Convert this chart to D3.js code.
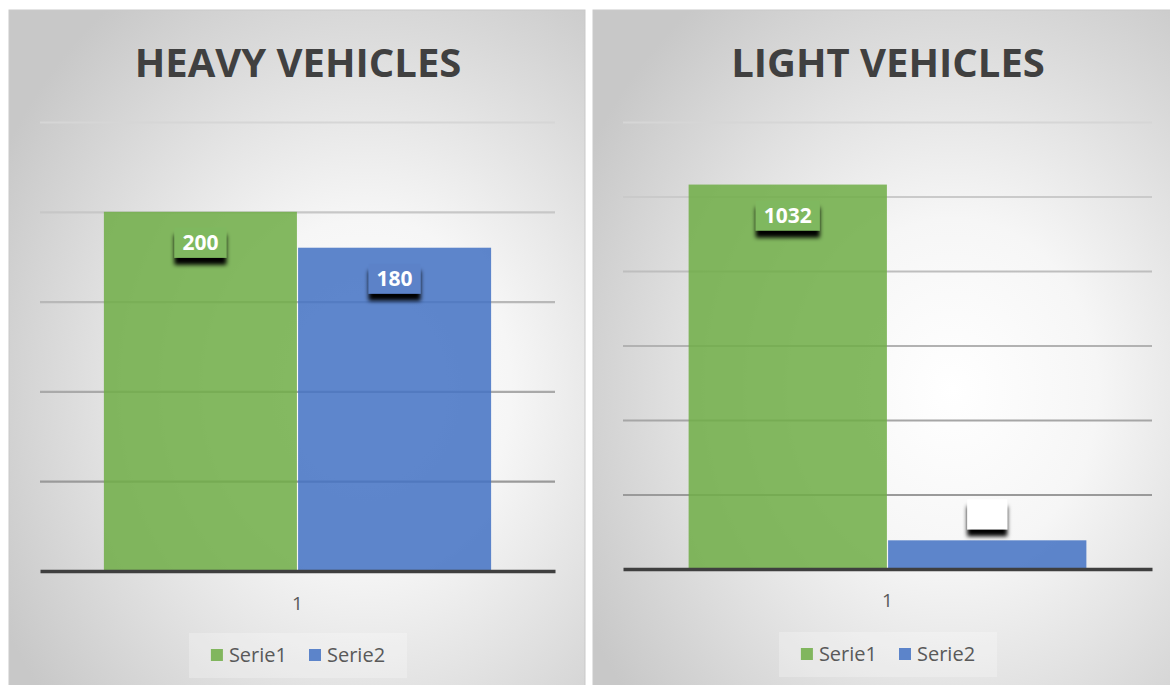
<!DOCTYPE html>
<html><head><meta charset="utf-8">
<script src="https://cdn.jsdelivr.net/npm/d3@7"></script>
<style>
html,body{margin:0;padding:0;background:#fff;}
svg{display:block;}
text{font-family:"Open Sans","Noto Sans",sans-serif;}
</style></head>
<body>
<script>
// ---- data ----
const chartTitles = ["HEAVY VEHICLES", "LIGHT VEHICLES"];
const categories = ["1"];
const seriesNames = ["Serie1", "Serie2"];
const heavyValues = [200, 180];
const lightValues = [1032, 77];
const heavyTicks = [0, 50, 100, 150, 200, 250];
const lightTicks = [0, 200, 400, 600, 800, 1000, 1200];
const seriesColors = ["#70AD47", "#4472C4"];
const labelFills = ["#7fb85f", "#5b82c8", "#ffffff"];

// ---- layout ----
const W = 1170, H = 685;
const layouts = [
  {x0: 9, x1: 585, top: 10, plotL: 40, plotR: 555, base: 571, gtop: 122, titleX: 298, legendY: 655, catY: 610,
   values: heavyValues, ticks: heavyTicks, gradId: "g0"},
  {x0: 593, x1: 1172, top: 10, plotL: 623, plotR: 1152, base: 569, gtop: 122, titleX: 888, legendY: 654, catY: 607,
   values: lightValues, ticks: lightTicks, gradId: "g1"}
];

const svg = d3.select("body").append("svg").attr("width", W).attr("height", H);
const defs = svg.append("defs");
const flt = defs.append("filter").attr("id", "shadow").attr("x", "-20%").attr("y", "-20%").attr("width", "140%").attr("height", "170%");
flt.append("feDropShadow").attr("dx", 0).attr("dy", 7).attr("stdDeviation", 2.2).attr("flood-color", "#000").attr("flood-opacity", 1);

layouts.forEach((L, i) => {
  const g = defs.append("radialGradient").attr("id", L.gradId)
    .attr("cx", "62%").attr("cy", "56%").attr("r", "72%").attr("fx", "62%").attr("fy", "56%");
  g.append("stop").attr("offset", "0%").attr("stop-color", "#ffffff");
  g.append("stop").attr("offset", "35%").attr("stop-color", "#f6f6f6");
  g.append("stop").attr("offset", "100%").attr("stop-color", "#c8c8c8");

  const p = svg.append("g");
  p.append("rect").attr("x", L.x0).attr("y", L.top).attr("width", L.x1 - L.x0).attr("height", H - L.top + 2)
    .attr("fill", `url(#${L.gradId})`).attr("stroke", "#c9c9c9").attr("stroke-width", 1);

  // title
  p.append("text").attr("x", L.titleX).attr("y", 77).attr("text-anchor", "middle")
    .attr("font-size", 40).attr("font-weight", 700).attr("fill", "#404040")
    .text(chartTitles[i]);

  const y = d3.scaleLinear().domain([0, d3.max(L.ticks)]).range([L.base, L.gtop]);
  const x = d3.scaleBand().domain(categories).range([L.plotL, L.plotR]).paddingOuter(0.165).paddingInner(0);
  const xs = d3.scaleBand().domain(seriesNames).range([0, x.bandwidth()]).paddingInner(0.006);

  // gridlines
  const grid = p.append("g").attr("transform", `translate(${L.plotL},0)`)
    .call(d3.axisLeft(y).tickValues(L.ticks.slice(1)).tickSize(-(L.plotR - L.plotL)).tickFormat(""));
  grid.select(".domain").remove();
  const nT = L.ticks.length - 1;
  const gcol = d3.scaleLinear().domain([nT, 1]).range(["#d6d6d6", "#9a9a9a"]);
  grid.selectAll(".tick line").attr("stroke", d => gcol(L.ticks.indexOf(d))).attr("stroke-width", 2.2);

  // bars
  const bars = p.append("g");
  L.values.forEach((v, s) => {
    const bx = x(categories[0]) + xs(seriesNames[s]);
    bars.append("rect").attr("x", bx).attr("y", y(v)).attr("width", xs.bandwidth()).attr("height", y(0) - y(v))
      .attr("fill", seriesColors[s]).attr("fill-opacity", 0.86);
  });

  // baseline axis
  const ax = p.append("g").attr("transform", `translate(0,${L.base})`)
    .call(d3.axisBottom(x).tickSize(0).tickPadding(0));
  ax.select(".domain").attr("stroke", "#3f3f3f").attr("stroke-width", 3.5);
  ax.selectAll(".tick text").attr("y", L.catY - L.base).attr("font-size", 19).attr("fill", "#595959")
    .attr("font-family", "'Open Sans', sans-serif").attr("dy", 0);

  // data labels
  L.values.forEach((v, s) => {
    const cx = x(categories[0]) + xs(seriesNames[s]) + xs.bandwidth() / 2;
    const txt = String(v);
    const bw = txt.length * 12 + 16, bh = 30;
    const barH = y(0) - y(v);
    let by, fill;
    if (barH > bh + 30) { by = y(v) + 16; fill = labelFills[s]; }
    else { by = y(v) - 41; fill = labelFills[2]; }
    const lg = p.append("g");
    lg.append("rect").attr("x", cx - bw / 2).attr("y", by).attr("width", bw).attr("height", bh)
      .attr("fill", fill).attr("filter", "url(#shadow)");
    lg.append("text").attr("x", cx).attr("y", by + 22.5).attr("text-anchor", "middle")
      .attr("font-size", 21).attr("font-weight", 700).attr("fill", "#fff").text(txt);
  });

  // legend
  const leg = p.append("g");
  const items = seriesNames.map((n, s) => ({n, s}));
  const tmp = leg.append("g");
  let cur = 0;
  const pos = [];
  items.forEach(it => {
    const t = tmp.append("text").attr("font-size", 20).attr("fill", "#595959").text(it.n);
    const w = t.node().getComputedTextLength();
    pos.push({x: cur, w});
    cur += 12 + 6 + w + 22;
  });
  tmp.remove();
  const total = cur - 22;
  const lx0 = L.titleX - total / 2;
  leg.append("rect").attr("x", lx0 - 22).attr("y", L.legendY - 22).attr("width", total + 44).attr("height", 45)
    .attr("fill", "#ffffff").attr("fill-opacity", 0.25);
  items.forEach((it, k) => {
    leg.append("rect").attr("x", lx0 + pos[k].x).attr("y", L.legendY - 6).attr("width", 12).attr("height", 12)
      .attr("fill", seriesColors[it.s]).attr("fill-opacity", 0.86);
    leg.append("text").attr("x", lx0 + pos[k].x + 18).attr("y", L.legendY + 7).attr("font-size", 20)
      .attr("fill", "#595959").text(it.n);
  });
});
</script>
</body></html>
